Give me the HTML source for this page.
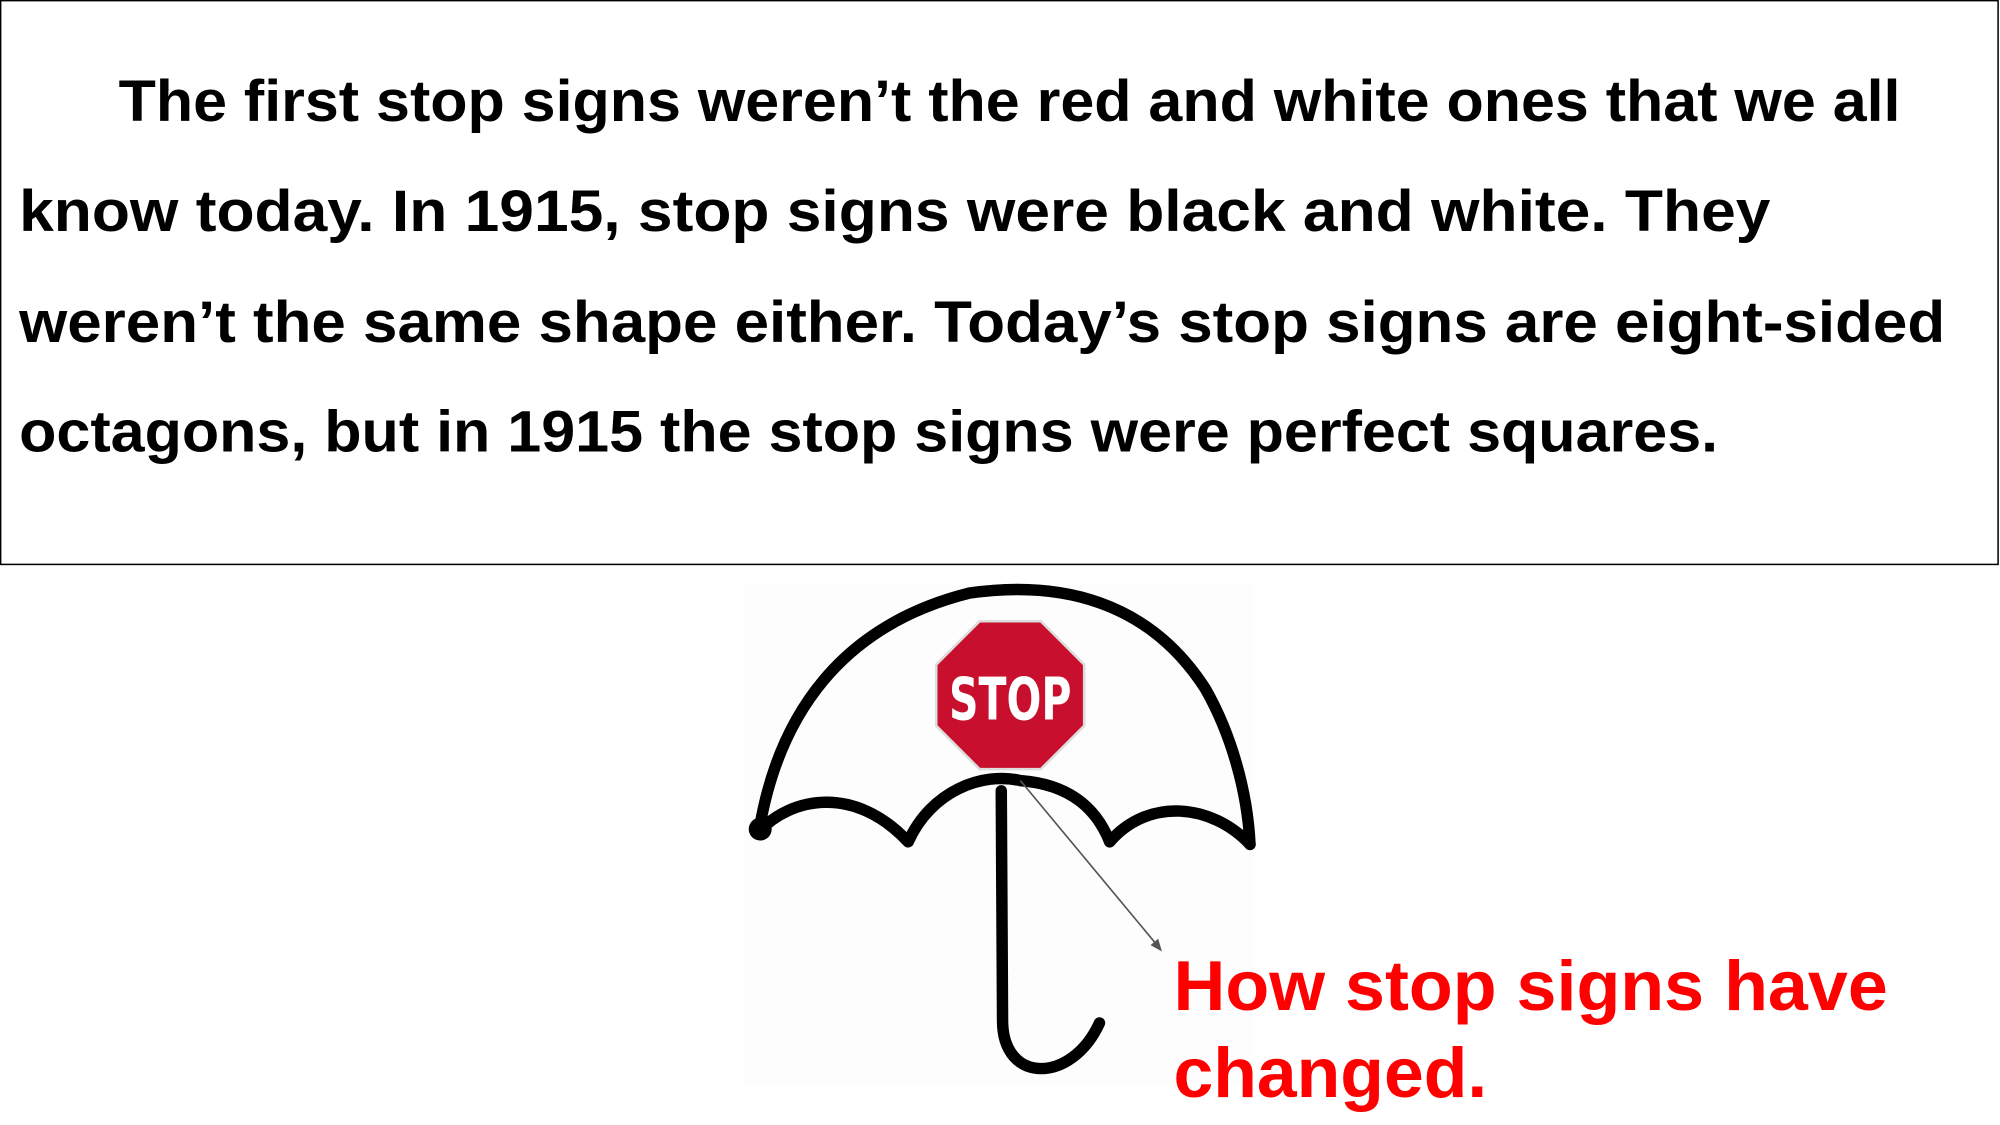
<!DOCTYPE html>
<html><head><meta charset="utf-8"><style>
html,body{margin:0;padding:0;background:#fff;width:2000px;height:1125px;overflow:hidden}
text{font-family:"Liberation Sans",Arial,sans-serif;font-weight:bold}
</style></head><body>
<svg width="2000" height="1125" viewBox="0 0 1568 882">
<rect x="0.5" y="0.5" width="1566" height="442" fill="#fff" stroke="#000" stroke-width="1.2"/>
<g font-size="46" fill="#000">
<text x="93" y="95" textLength="1397" lengthAdjust="spacingAndGlyphs">The first stop signs weren’t the red and white ones that we all</text>
<text x="15" y="181" textLength="1373" lengthAdjust="spacingAndGlyphs">know today.  In 1915, stop signs were black and white.  They</text>
<text x="15" y="268" textLength="1510" lengthAdjust="spacingAndGlyphs">weren’t the same shape either.  Today’s stop signs are eight-sided</text>
<text x="15" y="354" textLength="1332" lengthAdjust="spacingAndGlyphs">octagons, but in 1915 the stop signs were perfect squares.</text>
</g>
<g>
<rect x="583" y="458" width="400" height="392" fill="#fdfdfd"/>
<g fill="none" stroke="#000" stroke-width="9" stroke-linecap="round" stroke-linejoin="round">
<path d="M595,652 C610,560 660,490 760,465 C830,455 900,470 945,540 C965,575 978,620 980,662"/>
<path d="M595,652 C620,625 670,615 712,660 C730,620 770,605 800,612 C840,615 860,635 870,660 C900,625 950,630 980,662"/>
<path d="M785,620 L786,800 C786,850 840,850 862,802"/>
</g>
<circle cx="596" cy="650" r="9" fill="#000"/>
<polygon points="768,487 816,487 850,521 850,569 816,603 768,603 734,569 734,521" fill="#c8102e" stroke="#ddd" stroke-width="2"/>
<text x="792" y="564" font-size="46" fill="#fff" text-anchor="middle" textLength="96" lengthAdjust="spacingAndGlyphs" style="font-family:'DejaVu Sans Condensed','Liberation Sans Narrow',sans-serif">STOP</text>
</g>
<line x1="800" y1="612" x2="908" y2="742" stroke="#555" stroke-width="1.3"/>
<polygon points="911,746 902,741 908,736" fill="#555"/>
<g font-size="55" fill="#ff0000">
<text x="920" y="792" textLength="560" lengthAdjust="spacingAndGlyphs">How stop signs have</text>
<text x="920" y="860" textLength="246" lengthAdjust="spacingAndGlyphs">changed.</text>
</g>
</svg>
</body></html>
